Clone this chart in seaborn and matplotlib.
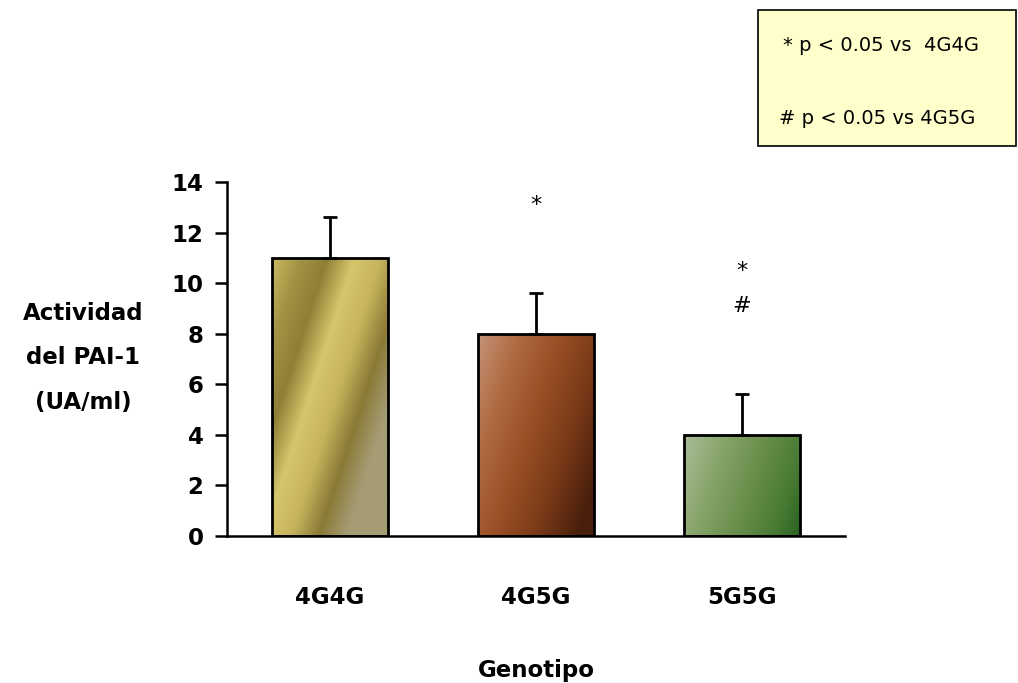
import matplotlib
matplotlib.use("Agg")
import matplotlib.pyplot as plt
import seaborn as sns
import numpy as np
from matplotlib.colors import LinearSegmentedColormap
from matplotlib.patches import Rectangle

genotypes = ["4G4G", "4G5G", "5G5G"]
activity = [11.0, 8.0, 4.0]
sem = [1.6, 1.6, 1.6]
bar_stops = [
    ["#cbbb62", "#a39445", "#8f7f35", "#d6c66c", "#c6b45c", "#8a7a36", "#a59c74"],
    ["#c49478", "#b06a42", "#9a4f26", "#7a3a18", "#4a200c"],
    ["#a9bd99", "#88a56a", "#6a8e4c", "#477a33", "#165414"],
]
marks = [("4G5G", 13.1, "*"), ("5G5G", 10.5, "*"), ("5G5G", 9.1, "#")]
legend_lines = ["* p < 0.05 vs  4G4G", "# p < 0.05 vs 4G5G"]

sns.set_style("white", {"text.color": "black", "axes.labelcolor": "black",
                        "xtick.color": "black", "ytick.color": "black"})
plt.rcParams["font.family"] = ["DejaVu Sans"]

fig = plt.figure(figsize=(10.18, 6.83), dpi=100)
ax = fig.add_axes([0.223, 0.2152, 0.607, 0.5183])

sns.barplot(x=genotypes, y=activity, ax=ax, width=0.56, color="white",
            edgecolor="black", linewidth=2.0)

# gradient fills clipped to each bar
for patch, stops in zip(ax.patches, bar_stops):
    x0, w, h = patch.get_x(), patch.get_width(), patch.get_height()
    u, v = np.meshgrid(np.linspace(0, 1, 200), np.linspace(0, 1, 300))
    t = np.clip(0.7 * u + 0.55 * (1 - v) * (h / 11), 0, 1)
    cmap = LinearSegmentedColormap.from_list("g", stops)
    patch.set_facecolor("none")
    patch.set_zorder(2)
    img = ax.imshow(t, cmap=cmap, extent=(x0, x0 + w, h, 0), aspect="auto",
                    vmin=0, vmax=1, zorder=1, interpolation="bilinear")
    img.set_clip_path(patch)

ax.errorbar(x=np.arange(len(genotypes)), y=activity,
            yerr=[np.zeros(len(sem)), sem], fmt="none", ecolor="black",
            elinewidth=2, capsize=5, capthick=2, zorder=3)

for g, y, s in marks:
    ax.text(genotypes.index(g), y, s, ha="center", va="center", fontsize=16)

ax.set_xlim(-0.5, 2.5)
ax.set_ylim(0, 14)
ax.set_yticks(range(0, 15, 2))
ax.set_xticks(range(3))
ax.set_xticks([0.5, 1.5, 2.5], minor=True)
ax.tick_params(axis="x", which="major", length=0, pad=36)
ax.tick_params(axis="x", which="minor", length=9, width=1.8, direction="out")
ax.tick_params(axis="y", length=9, width=1.8, direction="out", pad=8, left=True)
for lab in ax.get_xticklabels() + ax.get_yticklabels():
    lab.set_fontsize(16.5)
    lab.set_fontweight("bold")

sns.despine(ax=ax)
for sp in ("left", "bottom"):
    ax.spines[sp].set_linewidth(1.8)
    ax.spines[sp].set_color("black")

ax.set_xlabel("Genotipo", fontsize=16.5, fontweight="bold", labelpad=36)
ax.set_ylabel("Actividad\ndel PAI-1\n(UA/ml)", fontsize=16.5, fontweight="bold",
              rotation=0, ha="center", va="center", linespacing=2.2)
ax.yaxis.set_label_coords(-0.233, 0.503)

fig.patches.append(Rectangle((0.7446, 0.786), 0.2535, 0.199, transform=fig.transFigure,
                             facecolor="#ffffcc", edgecolor="black", linewidth=1.2))
fig.text(0.769, 0.934, legend_lines[0], fontsize=14, va="center")
fig.text(0.765, 0.827, legend_lines[1], fontsize=14, va="center")

fig.savefig("out.png", dpi=100)
